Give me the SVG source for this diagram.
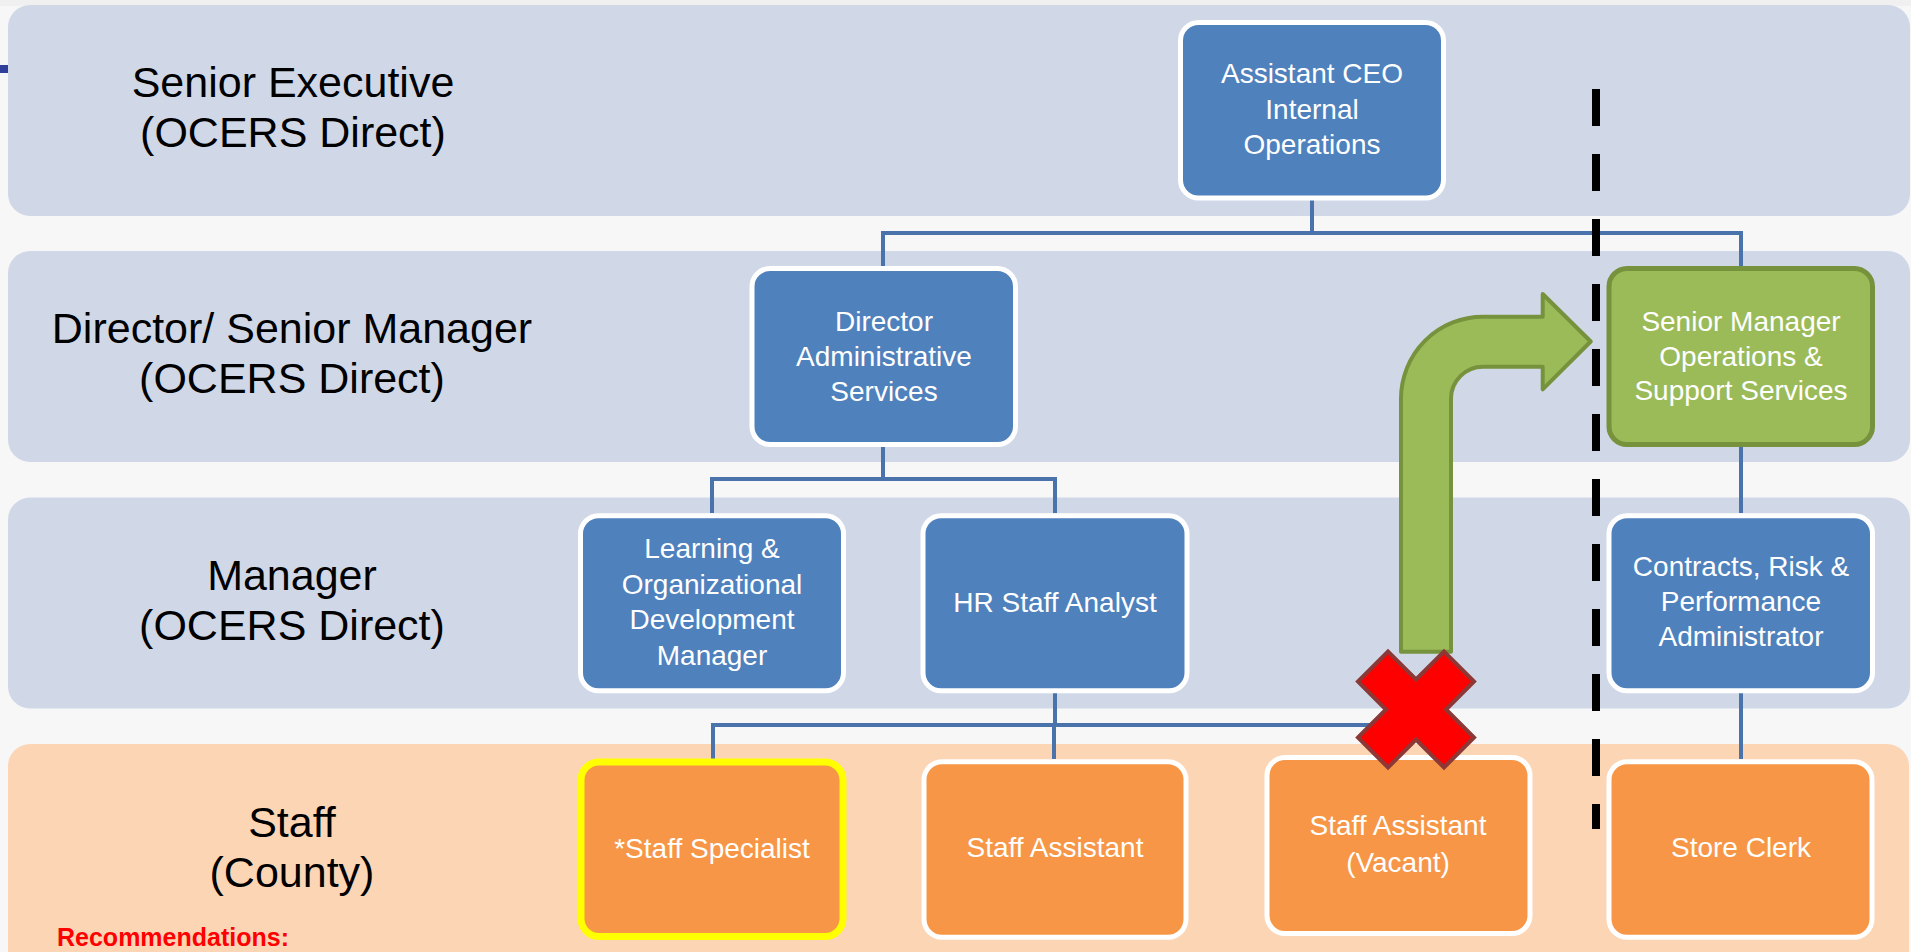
<svg xmlns="http://www.w3.org/2000/svg" width="1911" height="952" viewBox="0 0 1911 952">
<style>
.lane{fill:#d0d8e8}
.lane4{fill:#fcd5b5}
.lbl{font-family:"Liberation Sans",Arial,sans-serif;font-size:43px;fill:#000;text-anchor:middle}
.bx{stroke:#fff;stroke-width:5}
.blue{fill:#4f81bd}
.orange{fill:#f79646}
.t{font-family:"Liberation Sans",Arial,sans-serif;font-size:28px;fill:#fff;text-anchor:middle}
.conn{fill:none;stroke:#4a73ab;stroke-width:4}
</style>
<rect x="0" y="0" width="1911" height="952" fill="#f7f7f7"/>
<rect x="0" y="0" width="1911" height="6" fill="#f0f0f0"/>
<rect x="0" y="65" width="8" height="8" fill="#2f3f9a"/>
<g id="lanes">
<rect class="lane" x="8" y="5" width="1902" height="211" rx="22"/>
<rect class="lane" x="8" y="251" width="1902" height="211" rx="22"/>
<rect class="lane" x="8" y="497.5" width="1902" height="211" rx="22"/>
<rect class="lane4" x="8" y="744" width="1901" height="240" rx="22"/>
<text class="lbl" x="293" y="97">Senior Executive</text>
<text class="lbl" x="293" y="147">(OCERS Direct)</text>
<text class="lbl" x="292" y="343">Director/ Senior Manager</text>
<text class="lbl" x="292" y="393">(OCERS Direct)</text>
<text class="lbl" x="292" y="590">Manager</text>
<text class="lbl" x="292" y="640">(OCERS Direct)</text>
<text class="lbl" x="292" y="837">Staff</text>
<text class="lbl" x="292" y="887">(County)</text>
</g>
<g id="connectors">
<path class="conn" d="M1312,200 V233"/>
<path class="conn" d="M883,266 V233 H1741 V266"/>
<path class="conn" d="M883,447 V479"/>
<path class="conn" d="M712,513 V479 H1055 V513"/>
<path class="conn" d="M1055,693 V725"/>
<path class="conn" d="M713,759 V725 H1398 V757"/>
<path class="conn" d="M1054,725 V759"/>
<path class="conn" d="M1741,447 V513"/>
<path class="conn" d="M1741,693 V759"/>
</g>
<g id="ceo">
<rect class="bx blue" x="1180.5" y="22.5" width="263" height="175.5" rx="18"/>
<text class="t" x="1312" y="83">Assistant CEO</text>
<text class="t" x="1312" y="119">Internal</text>
<text class="t" x="1312" y="154">Operations</text>
</g>
<g id="director">
<rect class="bx blue" x="752" y="268.5" width="263.5" height="176" rx="18"/>
<text class="t" x="884" y="331">Director</text>
<text class="t" x="884" y="366">Administrative</text>
<text class="t" x="884" y="401">Services</text>
</g>
<g id="seniormgr">
<rect x="1609" y="268.5" width="263.5" height="176" rx="18" fill="#9bbb59" stroke="#76923c" stroke-width="5"/>
<text class="t" x="1741" y="331">Senior Manager</text>
<text class="t" x="1741" y="365.5">Operations &amp;</text>
<text class="t" x="1741" y="400">Support Services</text>
</g>
<g id="lod">
<rect class="bx blue" x="580.5" y="515.8" width="263" height="175" rx="18"/>
<text class="t" x="712" y="558">Learning &amp;</text>
<text class="t" x="712" y="593.5">Organizational</text>
<text class="t" x="712" y="629">Development</text>
<text class="t" x="712" y="664.5">Manager</text>
</g>
<g id="hr">
<rect class="bx blue" x="923" y="515.8" width="264" height="175" rx="18"/>
<text class="t" x="1055" y="612">HR Staff Analyst</text>
</g>
<g id="contracts">
<rect class="bx blue" x="1609" y="515.8" width="263.5" height="175" rx="18"/>
<text class="t" x="1741" y="576">Contracts, Risk &amp;</text>
<text class="t" x="1741" y="611">Performance</text>
<text class="t" x="1741" y="646">Administrator</text>
</g>
<g id="specialist">
<rect class="orange" x="581" y="762" width="262" height="174.5" rx="18" stroke="#ffff00" stroke-width="7"/>
<text class="t" x="712" y="858">*Staff Specialist</text>
</g>
<g id="staffassistant">
<rect class="bx orange" x="924" y="761.8" width="262" height="175.5" rx="18"/>
<text class="t" x="1055" y="857">Staff Assistant</text>
</g>
<g id="vacant">
<rect class="bx orange" x="1267" y="757.5" width="263" height="176" rx="18"/>
<text class="t" x="1398" y="835">Staff Assistant</text>
<text class="t" x="1398" y="872">(Vacant)</text>
</g>
<g id="storeclerk">
<rect class="bx orange" x="1609" y="761.8" width="263" height="175.5" rx="18"/>
<text class="t" x="1741" y="857">Store Clerk</text>
</g>
<g id="move-arrow">
<path d="M1401,651.7 L1401,398.5 A82,82 0 0 1 1483,316.7 L1542.7,316.7 L1542.7,294 L1590.7,341.5 L1542.7,389.3 L1542.7,366.7 L1483,366.7 A32,32 0 0 0 1451,398.7 L1451,651.7 Z" fill="#9bbb59" stroke="#76923c" stroke-width="4" stroke-linejoin="round"/>
</g>
<g id="cross">
<polygon points="1416,679.5 1444,651.5 1474,681.5 1446,709.5 1474,737.5 1444,767.5 1416,739.5 1388,767.5 1358,737.5 1386,709.5 1358,681.5 1388,651.5" fill="#ff0000" stroke="#8c3836" stroke-width="4" stroke-linejoin="miter"/>
</g>
<g id="divider">
<line x1="1596" y1="89" x2="1596" y2="829" stroke="#000" stroke-width="8" stroke-dasharray="37 28"/>
</g>
<text x="57" y="946" font-family="'Liberation Sans',Arial,sans-serif" font-size="25" font-weight="bold" fill="#ff0000">Recommendations:</text>
</svg>
